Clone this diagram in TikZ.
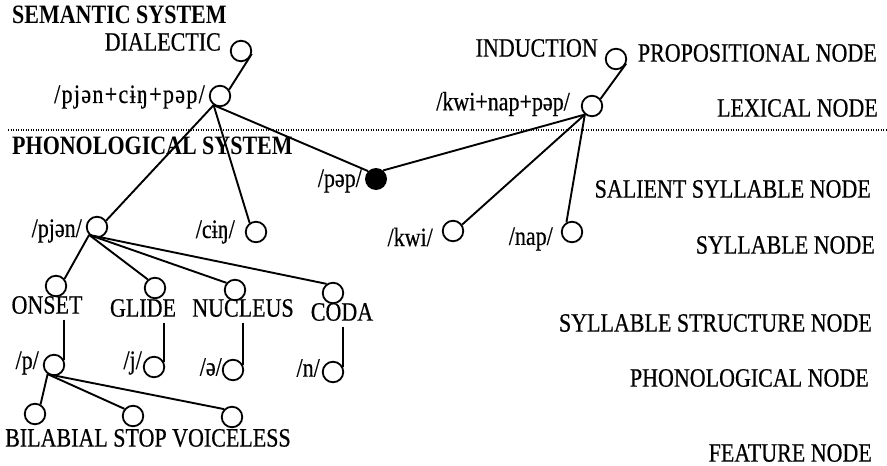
\documentclass[tikz,border=0pt]{standalone}
\usepackage{fontspec}
\setmainfont{Liberation Serif}[FakeStretch=0.83,UprightFeatures={FakeBold=0.5}]
\begin{document}
\begin{tikzpicture}[x=1pt,y=-1pt,
  every node/.style={font=\fontsize{26.5}{30}\selectfont},
  hollow/.style={circle,draw,line width=1.8pt,minimum size=20.5pt,inner sep=0pt},
  filleddot/.style={circle,fill=black,minimum size=22pt,inner sep=0pt},
  lbl/.style={inner sep=0pt},
  systitle/.style={inner sep=0pt,anchor=west,font=\fontsize{26.5}{30}\selectfont\bfseries},
  branch/.style={line width=1.9pt},
  divider/.style={line width=1.2pt,dash pattern=on 1.1pt off 1.4pt}]
\path[use as bounding box] (0,0) rectangle (887,466);

% system headings and the boundary between them
\node[systitle] (semsys) at (12,15) {SEMANTIC SYSTEM};
\node[systitle] (phonsys) at (12,146) {PHONOLOGICAL SYSTEM};
\coordinate (divL) at (8,130);
\coordinate (divR) at (887,130);
\draw[divider] (divL) -- (divR);

% propositional and lexical nodes
\node[hollow] (dial) at (241,51) {};
\node[lbl,anchor=east] (dialT) at (221,42) {DIALECTIC};
\node[hollow] (lex1) at (220,96) {};
\node[lbl,anchor=east] (lex1T) at (205,97) {\addfontfeatures{LetterSpace=5}/pjən+cɨŋ+pəp/};
\node[hollow] (ind) at (616,59) {};
\node[lbl,anchor=east] (indT) at (598,48) {INDUCTION};
\node[hollow] (lex2) at (592,106) {};
\node[lbl,anchor=east] (lex2T) at (570,104) {/kwi+nap+pəp/};

% salient syllable and syllables
\node[filleddot] (pep) at (376,179) {};
\node[lbl,anchor=east] (pepT) at (362,181) {/pəp/};
\node[hollow] (pjen) at (97,227) {};
\node[lbl,anchor=east] (pjenT) at (82,231) {/pjən/};
\node[hollow] (cin) at (256,232) {};
\node[lbl,anchor=east] (cinT) at (235,232) {/cɨŋ/};
\node[hollow] (kwi) at (453,231) {};
\node[lbl,anchor=east] (kwiT) at (433,237) {/kwi/};
\node[hollow] (nap) at (572,232) {};
\node[lbl,anchor=east] (napT) at (553,239) {/nap/};

% syllable structure
\node[hollow] (onset) at (56,286) {};
\node[lbl] (onsetT) at (47,305) {ONSET};
\node[hollow] (glide) at (155,288) {};
\node[lbl] (glideT) at (143,308) {GLIDE};
\node[hollow] (nucl) at (235,290) {};
\node[lbl] (nuclT) at (243,308) {NUCLEUS};
\node[hollow] (coda) at (333,293) {};
\node[lbl] (codaT) at (342,312) {CODA};

% phonological segments
\node[hollow] (ph) at (54,365) {};
\node[lbl,anchor=east] (phT) at (39,363) {/p/};
\node[hollow] (jh) at (154,367) {};
\node[lbl,anchor=east] (jhT) at (142,363) {/j/};
\node[hollow] (schwa) at (233,370) {};
\node[lbl,anchor=east] (schwaT) at (222,367) {/ə/};
\node[hollow] (nh) at (333,372) {};
\node[lbl,anchor=east] (nhT) at (320,368) {/n/};

% features
\node[hollow] (bil) at (35,414) {};
\node[hollow] (stop) at (133,416) {};
\node[hollow] (voic) at (232,417) {};
\node[lbl,anchor=west] (featT) at (5,438) {BILABIAL STOP VOICELESS};

% level names
\node[lbl,anchor=east] (propN) at (877,53) {PROPOSITIONAL NODE};
\node[lbl,anchor=east] (lexN) at (878,108) {LEXICAL NODE};
\node[lbl,anchor=east] (salN) at (871,189) {SALIENT SYLLABLE NODE};
\node[lbl,anchor=east] (sylN) at (875,245) {SYLLABLE NODE};
\node[lbl,anchor=east] (ssN) at (872,323) {SYLLABLE STRUCTURE NODE};
\node[lbl,anchor=east] (phN) at (869,378) {PHONOLOGICAL NODE};
\node[lbl,anchor=east] (featN) at (872,453) {FEATURE NODE};

% links
\draw[branch] (dial.-15) -- (lex1.35);
\draw[branch] (ind.-25) -- (lex2.40);
\draw[branch] (lex1.235) -- (pjen.35);
\draw[branch] (lex1.235) -- (cin.125);
\draw[branch] (lex1.235) -- (pep.135);
\draw[branch] (lex2.230) -- (pep.50);
\draw[branch] (lex2.230) -- (kwi.35);
\draw[branch] (lex2.230) -- (nap.120);
\draw[branch] (pjen.225) -- (onset.40);
\draw[branch] (pjen.225) -- (glide.130);
\draw[branch] (pjen.225) -- (nucl.140);
\draw[branch] (pjen.225) -- (coda.125);
\draw[branch] ([yshift=-6pt]onsetT.base -| ph.25) -- (ph.25);
\draw[branch] ([yshift=-6pt]glideT.base -| jh.25) -- (jh.25);
\draw[branch] ([yshift=-6pt]nuclT.base -| schwa.25) -- (schwa.25);
\draw[branch] ([yshift=-6pt]codaT.base -| nh.25) -- (nh.25);
\draw[branch] (ph.235) -- (bil.60);
\draw[branch] (ph.235) -- (stop.140);
\draw[branch] (ph.235) -- (voic.135);
\end{tikzpicture}
\end{document}
